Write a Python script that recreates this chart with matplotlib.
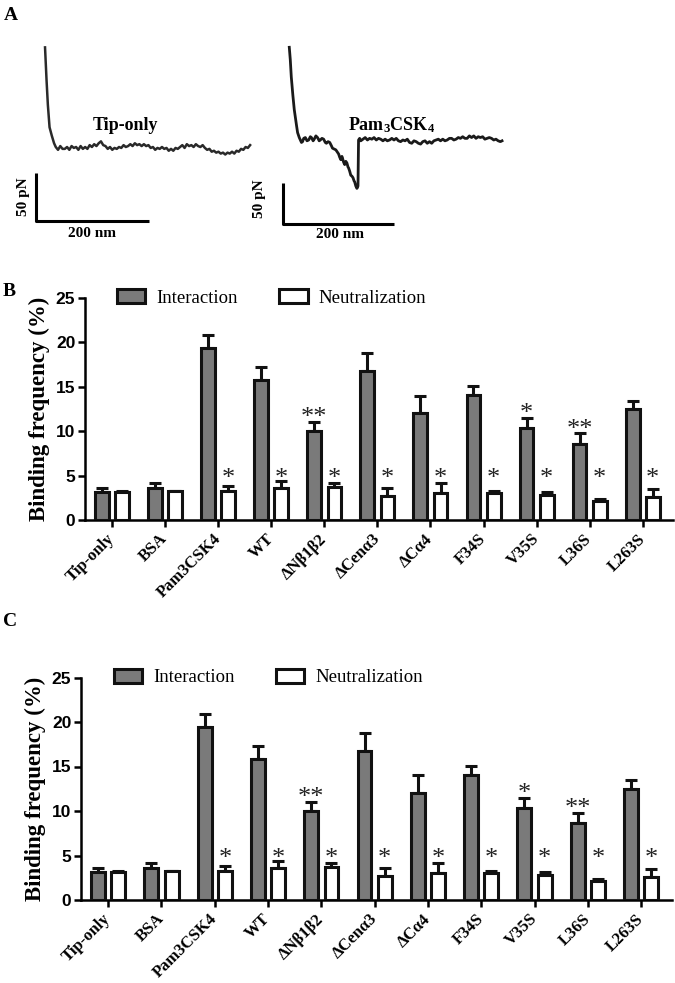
import matplotlib
matplotlib.use("Agg")
import matplotlib.pyplot as plt
import matplotlib.transforms as mtransforms
import numpy as np

# ---------------- data ----------------
# panel A: force curves (distance in nm, force in pN)
tip_nm = [0, 2.7, 5, 8, 12, 16, 19, 23, 27, 31, 35, 39, 43, 47, 51, 55, 59, 63, 67, 71,
          75, 79, 83, 87, 91, 95, 99, 103, 107, 111, 115, 119, 123, 127, 131, 135, 139, 143,
          147, 151, 155, 159, 163, 167, 171, 175, 179, 183, 187, 191, 195, 199, 203, 207,
          211, 215, 219, 223, 227, 231, 235, 239, 243, 247, 251, 255, 259, 263, 267, 271,
          275, 279, 283, 287, 291, 295, 299, 303, 307, 311, 315, 319, 323, 327, 331, 335,
          339, 343, 347, 351, 355, 359, 363]
tip_pn = [106, 71, 45, 21, 12, 4, 0, -3, 1, -2, -2, 0, -3, 1, -1, 0, -3, 1, -2, 0,
          -2, 2, 0, 3, 1, 4, 6, 2, 1, -2, 0, -3, -1, -2, 0, -1, 2, 0,
          1, 3, 1, 4, 2, 3, 1, 3, 1, 2, -1, 0, -3, -1, -2, 0,
          -2, -1, -4, -2, -4, -1, -2, 0, 2, -1, 3, 1, 2, 0, 3, 1,
          0, 2, -1, -3, -2, -5, -4, -6, -5, -7, -6, -8, -6, -7, -5, -7,
          -4, -5, -2, -3, 0, -1, 2]

pam_nm = [0, 1.8, 3.6, 6.4, 9, 13, 15, 18, 20, 22, 24, 26, 29, 32, 35, 38, 40, 43, 45, 48,
          51, 54, 56, 59, 62, 65, 67, 70, 73, 76, 78, 81, 84, 87, 89, 91, 93, 95, 96, 98,
          100, 102, 104, 106, 107, 109, 111, 113, 115, 117, 118, 120, 122, 123, 124, 125,
          127, 129, 133, 137, 141, 145, 149, 153, 157, 161, 165, 169, 173, 177, 181, 185,
          189, 193, 197, 201, 205, 209, 213, 217, 221, 225, 229, 233, 237, 241, 245, 249,
          253, 257, 261, 265, 269, 273, 277, 281, 285, 289, 293, 297, 301, 305, 309, 313,
          317, 321, 325, 329, 333, 337, 341, 345, 349, 353, 357, 361, 365, 369, 373, 377,
          381, 384]
pam_pn = [113, 98, 77, 55, 37, 18, 9, 3, 0, -3, -2, 2, 3, -1, 0, 4, 3, -1, 1, 5,
          3, -1, 0, 2, 1, -3, -4, -2, -3, -7, -10, -11, -12, -15, -17, -21, -24, -20, -22, -27,
          -30, -26, -28, -33, -34, -38, -43, -44, -46, -50, -51, -56, -59, -58, -56, 0,
          2, -1, 1, 3, 0, 2, 1, 3, 0, 2, 1, -1, 1, -1, 0, 2,
          0, 2, -1, -2, 0, -1, 1, -3, -4, -1, -2, -4, -5, -2, -1, -4,
          -2, -4, -1, 0, 1, -1, 1, -1, 0, 2, 2, 0, 1, 3, 2, 4,
          2, 2, 5, 3, 5, 2, 4, 3, 4, 1, 2, 3, 2, 0, 1, -1,
          -2, -1]

# panels B and C: binding frequency (%)
categories = ['Tip-only', 'BSA', 'Pam3CSK4', 'WT', 'ΔNβ1β2', 'ΔCenα3', 'ΔCα4',
              'F34S', 'V35S', 'L36S', 'L263S']
interaction = [3.15, 3.55, 19.4, 15.8, 10.05, 16.75, 12.0, 14.05, 10.35, 8.6, 12.45]
interaction_err = [0.5, 0.6, 1.45, 1.45, 0.95, 2.05, 2.0, 1.0, 1.15, 1.15, 1.0]
neutralization = [3.2, 3.25, 3.25, 3.55, 3.75, 2.7, 3.05, 3.05, 2.85, 2.15, 2.6]
neutralization_err = [0.05, 0.05, 0.55, 0.8, 0.4, 0.85, 1.15, 0.25, 0.35, 0.25, 0.9]
sig_interaction = ['', '', '', '', '**', '', '', '', '*', '**', '']
sig_neutralization = ['', '', '*', '*', '*', '*', '*', '*', '*', '*', '*']

SERIF = 'Liberation Serif'
SANS = 'Liberation Sans'
plt.rcParams['mathtext.fontset'] = 'custom'
plt.rcParams['mathtext.rm'] = 'Liberation Serif:bold'
plt.rcParams['mathtext.it'] = 'Liberation Serif:bold'

W, H = 675, 983
fig = plt.figure(figsize=(W / 100, H / 100), dpi=100)


def px_axes(left, top, right, bottom):
    return fig.add_axes([left / W, 1 - bottom / H, (right - left) / W, (bottom - top) / H])


# ---------------- panel A ----------------
axl = px_axes(10, 30, 260, 250)
axl.set_xlim(-62, 380.5)
axl.set_ylim(-109.6, 124.5)
axl.axis('off')
axl.plot(tip_nm, tip_pn, color='#2a2a2a', lw=1.8)
axl.plot([-16, -16, 184], [-27.7, -78.7, -78.7], color='black', lw=2.2, solid_capstyle='butt')
axl.text(143, 23.4, 'Tip-only', fontfamily=SERIF, fontweight='bold', fontsize=13,
         ha='center', va='center')
axl.text(-38, -53, '50 pN', fontfamily=SERIF, fontweight='bold', fontsize=11,
         rotation=90, ha='center', va='center')
axl.text(84, -92, '200 nm', fontfamily=SERIF, fontweight='bold', fontsize=11,
         ha='center', va='center')

axr = px_axes(250, 30, 520, 255)
axr.set_xlim(-70.9, 416.4)
axr.set_ylim(-140.2, 134.1)
axr.axis('off')
axr.plot(pam_nm, pam_pn, color='#1a1a1a', lw=2.0)
axr.plot([-11, -11, 189], [-52.4, -102.4, -102.4], color='black', lw=2.2, solid_capstyle='butt')
axr.text(184, 18, r'Pam$_3$CSK$_4$', fontfamily=SERIF, fontweight='bold', fontsize=13,
         ha='center', va='center')
axr.text(-53, -71, '50 pN', fontfamily=SERIF, fontweight='bold', fontsize=11,
         rotation=90, ha='center', va='center')
axr.text(91, -115, '200 nm', fontfamily=SERIF, fontweight='bold', fontsize=11,
         ha='center', va='center')


# ---------------- panels B and C ----------------
def bar_panel(ax, xlim):
    x = np.arange(len(categories))
    off, w = 0.19, 0.26
    ax.bar(x - off, interaction, w, color='#7a7a7a', edgecolor='#111111', lw=2.2,
           label='Interaction', zorder=3)
    ax.bar(x + off, neutralization, w, color='white', edgecolor='#111111', lw=2.2,
           label='Neutralization', zorder=3)
    ax.errorbar(x - off, interaction, yerr=[np.zeros(len(x)), interaction_err], fmt='none',
                ecolor='#111111', elinewidth=2.2, capsize=4.3, capthick=2.2, zorder=2)
    ax.errorbar(x + off, neutralization, yerr=[np.zeros(len(x)), neutralization_err], fmt='none',
                ecolor='#111111', elinewidth=2.2, capsize=4.3, capthick=2.2, zorder=2)
    for i in range(len(x)):
        if sig_interaction[i]:
            ax.text(x[i] - off, interaction[i] + interaction_err[i] - 0.8, sig_interaction[i],
                    fontfamily=SERIF, fontsize=19, ha='center', va='bottom', color='#222222')
        if sig_neutralization[i]:
            ax.text(x[i] + off, 3.4, sig_neutralization[i],
                    fontfamily=SERIF, fontsize=19, ha='center', va='bottom', color='#222222')

    ax.set_xlim(*xlim)
    ax.set_ylim(0, 25)
    ax.set_yticks([0, 5, 10, 15, 20, 25])
    ax.set_yticklabels(['0', '5', '10', '15', '20', '25'], fontfamily=SANS,
                       fontweight='bold', fontsize=12.5)
    ax.set_xticks(x)
    ax.set_xticklabels(categories, fontfamily=SERIF, fontweight='bold', fontsize=12,
                       rotation=45, ha='right', va='center', rotation_mode='anchor')
    shift = mtransforms.ScaledTranslation(0.08, 0.04, fig.dpi_scale_trans)
    for lbl in ax.get_xticklabels():
        lbl.set_transform(lbl.get_transform() + shift)
    ax.tick_params(axis='both', direction='out', length=5, width=1.8, pad=2)
    ax.tick_params(axis='x', pad=7)
    for s in ['top', 'right']:
        ax.spines[s].set_visible(False)
    for s in ['left', 'bottom']:
        ax.spines[s].set_linewidth(1.8)
    ax.set_ylabel('Binding frequency (%)', fontfamily=SERIF, fontweight='bold',
                  fontsize=16.5, labelpad=4)
    ax.legend(loc='center left', bbox_to_anchor=(0.055, 1.0), ncol=2, frameon=False,
              prop={'family': SERIF, 'size': 13.5}, handlelength=1.5, handleheight=0.75,
              handletextpad=0.6, columnspacing=2.2, borderaxespad=0, borderpad=0)


axB = px_axes(85, 298, 673, 520)
bar_panel(axB, (-0.51, 10.57))
axC = px_axes(81, 677.5, 672, 900)
bar_panel(axC, (-0.51, 10.58))

for lab, (xx, yy) in zip(['A', 'B', 'C'], [(4, 16), (3, 291), (3, 622)]):
    fig.text(xx / W, 1 - yy / H, lab, fontfamily=SERIF, fontweight='bold', fontsize=14,
             ha='left', va='center')

fig.savefig('out.png', dpi=100)
